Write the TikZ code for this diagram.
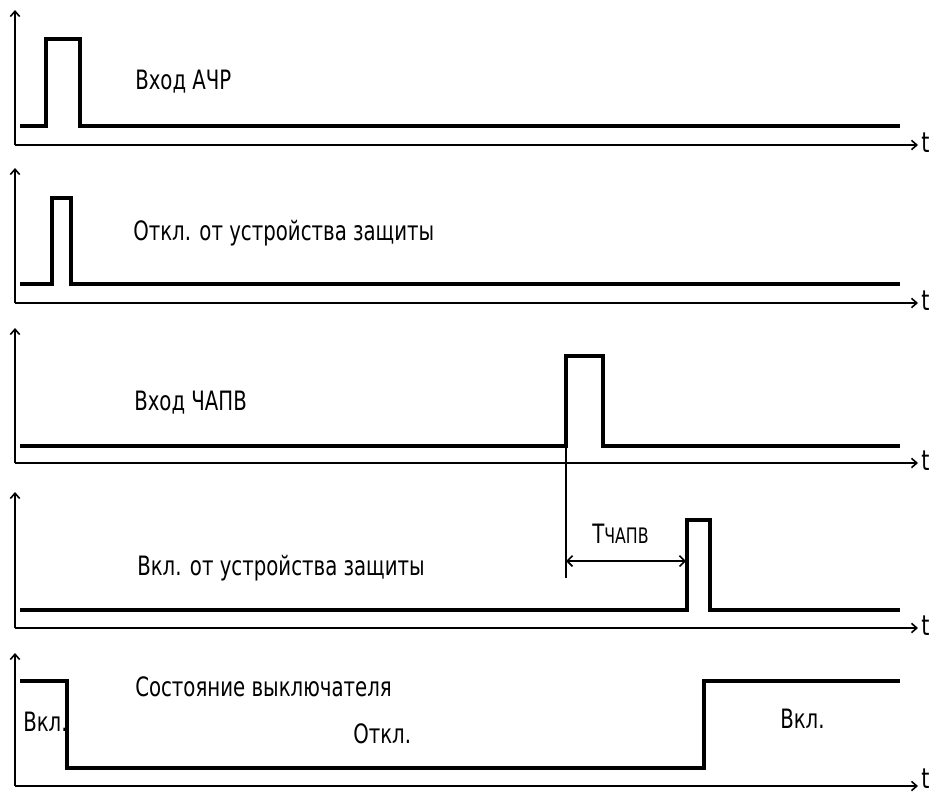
\documentclass[tikz,border=0pt]{standalone}
\usepackage{fontspec}
\setmainfont{DejaVu Sans}[FakeStretch=0.74]
\usetikzlibrary{arrows.meta}
\tikzset{
  axisline/.style={line width=1.5pt,-{Straight Barb[length=4pt,width=7pt,line width=1.2pt]}},
  sigline/.style={line width=3pt,line join=miter,line cap=butt},
  lbl/.style={anchor=base west,inner sep=0pt,font=\fontsize{20pt}{22pt}\selectfont},
  tlbl/.style={anchor=base west,inner sep=0pt,font=\fontsize{21pt}{23pt}\selectfont},
  thin/.style={line width=1.5pt},
  dim/.style={line width=1.5pt,{Straight Barb[length=4pt,width=8pt,line width=1.2pt]}-{Straight Barb[length=4pt,width=8pt,line width=1.2pt]}}
}
\begin{document}
\begin{tikzpicture}[x=0.75pt,y=-0.75pt]
\useasboundingbox (0,0) rectangle (938,793);
% axes
\foreach \ax/\tp/\tb in {145/10/152,303/168/310,463/328/470,628/492/635,786/653/788}{
  \coordinate (o) at (15,\ax);
  \draw[axisline] (o) -- (15,\tp);
  \draw[axisline] (o) -- (918,\ax);
  \node[tlbl] at (921,\tb) {t};
}
% signals
\draw[sigline] (20,126) -- (46,126) -- (46,39) -- (80,39) -- (80,126) -- (900,126);
\draw[sigline] (20,284) -- (52,284) -- (52,198) -- (71,198) -- (71,284) -- (900,284);
\draw[sigline] (20,446) -- (566,446) -- (566,356) -- (603,356) -- (603,446) -- (900,446);
\draw[sigline] (20,610) -- (687,610) -- (687,520) -- (710,520) -- (710,610) -- (900,610);
\draw[sigline] (20,681) -- (67,681) -- (67,768) -- (704,768) -- (704,681) -- (900,681);
% timing dimension
\coordinate (ts) at (566,446);
\coordinate (te) at (566,578);
\draw[thin] (ts) -- (te);
\coordinate (da) at (566,561);
\coordinate (db) at (686,561);
\draw[dim] (da) -- (db);
\node[lbl] (tchapv) at (592,543) {Т{\fontsize{16pt}{17pt}\selectfont ЧАПВ}};
% labels
\node[lbl] (l1) at (135,89) {Вход АЧР};
\node[lbl] (l2) at (133,240) {Откл. от устройства защиты};
\node[lbl] (l3) at (134,410) {Вход ЧАПВ};
\node[lbl] (l4) at (137,575) {Вкл. от устройства защиты};
\node[lbl] (l5) at (135,696) {Состояние выключателя};
\node[lbl] (l6) at (353,743) {Откл.};
\node[lbl] (l7) at (23,731) {Вкл.};
\node[lbl] (l8) at (780,728) {Вкл.};
\end{tikzpicture}
\end{document}
